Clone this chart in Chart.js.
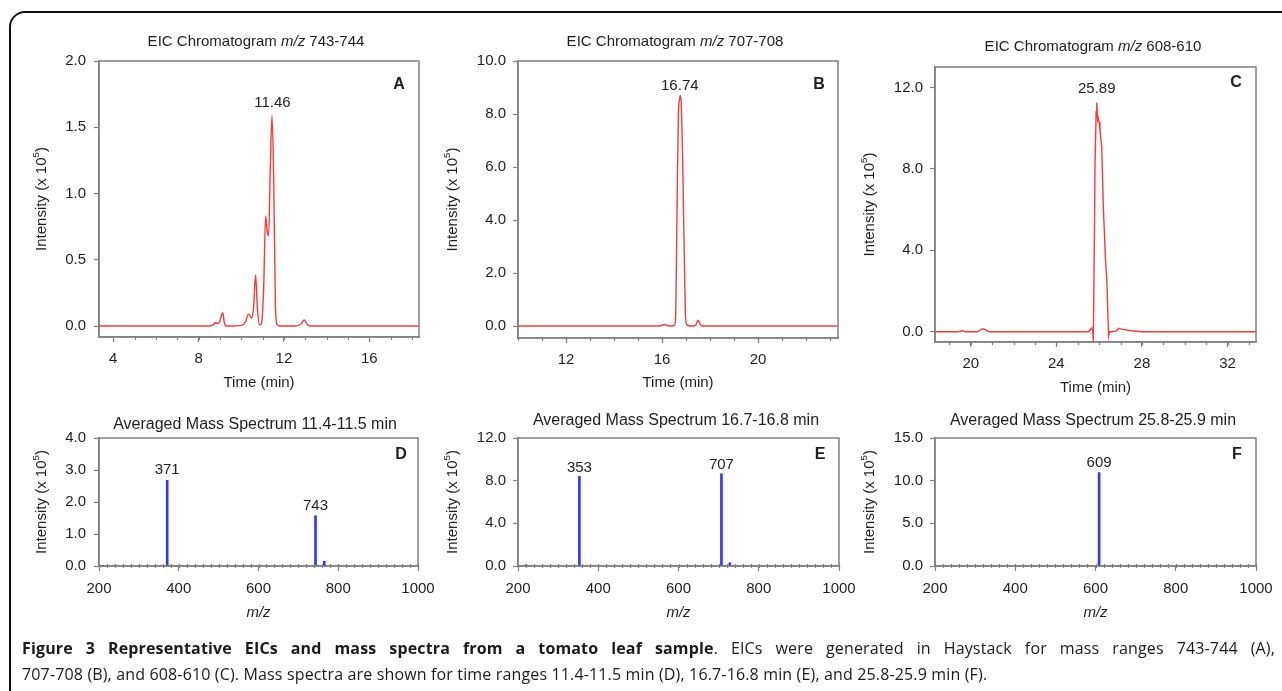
<!DOCTYPE html>
<html>
<head>
<meta charset="utf-8">
<script src="https://cdn.jsdelivr.net/npm/chart.js@4.4.1/dist/chart.umd.min.js"></script>
<style>
  html, body { margin: 0; padding: 0; background: #fff; }
  body { width: 1282px; height: 691px; position: relative; overflow: hidden; }
  .frame { position: absolute; left: 9px; top: 11px; width: 1320px; height: 720px;
           border: 2px solid #111; border-radius: 16px; box-sizing: border-box; }
  canvas.panel { position: absolute; left: 0; top: 0; }
  .cap { position: absolute; left: 22px; font-family: "Open Sans", "Noto Sans", sans-serif;
         font-size: 16px; color: #1a1a1a; line-height: 20px; letter-spacing: 0.15px; }
  #cap1 { top: 638px; width: 1253px; text-align: justify; text-align-last: justify; }
  #cap2 { top: 664px; white-space: nowrap; }
</style>
</head>
<body>
<div class="frame"></div>
<canvas id="cA" class="panel" width="1282" height="691"></canvas>
<canvas id="cB" class="panel" width="1282" height="691"></canvas>
<canvas id="cC" class="panel" width="1282" height="691"></canvas>
<canvas id="cD" class="panel" width="1282" height="691"></canvas>
<canvas id="cE" class="panel" width="1282" height="691"></canvas>
<canvas id="cF" class="panel" width="1282" height="691"></canvas>
<div id="cap1" class="cap"><b>Figure 3 Representative EICs and mass spectra from a tomato leaf sample</b>. EICs were generated in Haystack for mass ranges 743-744 (A),</div>
<div id="cap2" class="cap">707-708 (B), and 608-610 (C). Mass spectra are shown for time ranges 11.4-11.5 min (D), 16.7-16.8 min (E), and 25.8-25.9 min (F).</div>

<script>
// EIC traces (time in min, intensity x 10^5)
const timeA = [3.33, 6, 8.5, 8.7, 8.78, 8.9, 8.98, 9.05, 9.13, 9.2, 9.3, 9.5, 10.0, 10.2, 10.33, 10.4, 10.48, 10.58, 10.67, 10.76,
               10.85, 10.95, 11.05, 11.14, 11.21, 11.28, 11.36, 11.44, 11.52, 11.6, 11.68, 11.8, 12.5, 12.8, 12.95, 13.1, 13.3, 15, 18.33];
const intensityA = [0, 0, 0, 0.01, 0.025, 0.02, 0.03, 0.07, 0.1, 0.03, 0, 0, 0.005, 0.03, 0.09, 0.08, 0.06, 0.15, 0.385, 0.12,
                    0.01, 0.02, 0.3, 0.83, 0.72, 0.68, 1.2, 1.59, 1.1, 0.15, 0.01, 0, 0, 0.015, 0.045, 0.01, 0, 0, 0];

const timeB = [10, 12, 14, 15.9, 16.1, 16.2, 16.35, 16.5, 16.56, 16.62, 16.68, 16.72, 16.76, 16.8, 16.86, 16.92, 16.97, 17.02,
               17.2, 17.4, 17.5, 17.6, 17.75, 19, 21, 23.3];
const intensityB = [0, 0, 0, 0, 0.06, 0.03, 0, 0.02, 0.2, 4.0, 8.0, 8.5, 8.7, 8.4, 6.2, 3.0, 0.6, 0.05,
                    0, 0.03, 0.22, 0.05, 0, 0, 0, 0];

const timeC = [18.33, 19.4, 19.6, 19.75, 20.3, 20.55, 20.65, 20.85, 21.5, 24, 25.5, 25.65, 25.7, 25.73, 25.81, 25.86, 25.89,
               25.93, 25.96, 26.0, 26.04, 26.12, 26.2, 26.3, 26.36, 26.41, 26.44, 26.48, 26.6, 26.8, 26.9, 27.1, 27.5, 28, 33.33];
const intensityC = [0, 0, 0.06, 0, 0, 0.15, 0.12, 0, 0, 0, 0, 0.18, 0.05, -0.45, 8.3, 10.8, 11.25,
                    10.4, 10.5, 10.3, 9.9, 9.1, 6.0, 3.5, 2.5, 0.8, -0.2, 0, 0, 0.03, 0.17, 0.12, 0.05, 0, 0];

// averaged mass spectra (m/z, intensity x 10^5)
const mzD = [210, 240, 371, 395, 743, 765];
const abundD = [0.02, 0.03, 2.68, 0.02, 1.57, 0.15];
const mzE = [220, 353, 707, 728];
const abundE = [0.1, 8.4, 8.65, 0.3];
const mzF = [609];
const abundF = [10.95];

// labelled peaks
const peaksA = [[11.46, 1.59]];
const peaksB = [[16.74, 8.7]];
const peaksC = [[25.89, 11.25]];
const peaksD = [[371, 2.68], [743, 1.57]];
const peaksE = [[353, 8.4], [707, 8.65]];
const peaksF = [[609, 10.95]];

// ticks
const xTicksA = [4, 8, 12, 16];
const xTicksB = [12, 16, 20];
const xTicksC = [20, 24, 28, 32];
const mzTicks = [200, 400, 600, 800, 1000];
const yTicksA = [0, 0.5, 1.0, 1.5, 2.0];
const yTicksB = [0, 2, 4, 6, 8, 10];
const yTicksC = [0, 4, 8, 12];
const yTicksD = [0, 1, 2, 3, 4];
const yTicksE = [0, 4, 8, 12];
const yTicksF = [0, 5, 10, 15];

const FONT = '"Liberation Sans", Arial, sans-serif';
const GREY = '#808080';
const INK = '#1e1e1e';

function drawParts(ctx, parts, x, y, size, rotate) {
  ctx.save();
  ctx.translate(x, y);
  if (rotate) ctx.rotate(-Math.PI / 2);
  ctx.textBaseline = 'middle';
  ctx.textAlign = 'left';
  let w = 0;
  parts.forEach(p => {
    ctx.font = (p.it ? 'italic ' : '') + (p.b ? 'bold ' : '') + (p.sup ? size * 0.65 : size) + 'px ' + FONT;
    w += ctx.measureText(p.t).width;
  });
  let cx = -w / 2;
  parts.forEach(p => {
    ctx.font = (p.it ? 'italic ' : '') + (p.b ? 'bold ' : '') + (p.sup ? size * 0.65 : size) + 'px ' + FONT;
    ctx.fillStyle = INK;
    ctx.fillText(p.t, cx, p.sup ? -size * 0.35 : 0);
    cx += ctx.measureText(p.t).width;
  });
  ctx.restore();
}

const decor = {
  id: 'decor',
  afterDraw(chart) {
    const o = chart.config.options.decor;
    const { ctx, chartArea: a, scales: { x, y } } = chart;
    ctx.save();
    ctx.strokeStyle = GREY;
    ctx.lineWidth = 1.5;
    ctx.strokeRect(a.left, a.top, a.right - a.left, a.bottom - a.top);
    // minor ticks
    ctx.lineWidth = 1.2;
    ctx.beginPath();
    for (let v = Math.ceil(x.min / o.minor) * o.minor; v <= x.max + 1e-9; v += o.minor) {
      const px = Math.round(x.getPixelForValue(v)) + 0.5;
      ctx.moveTo(px, a.bottom - o.minorUp);
      ctx.lineTo(px, a.bottom + o.minorDown);
    }
    ctx.stroke();
    // titles
    drawParts(ctx, o.title, o.titleX, o.titleY, o.titleSize);
    drawParts(ctx, o.xTitle, (a.left + a.right) / 2, a.bottom + o.xTitleGap, 15);
    drawParts(ctx, [{ t: 'Intensity (x 10' }, { t: '5', sup: true }, { t: ')' }],
      a.left - o.yTitleGap, (a.top + a.bottom) / 2, 15, true);
    drawParts(ctx, [{ t: o.letter, b: true }], a.right - o.letterDx, a.top + o.letterDy, 16);
    // peak labels
    o.peaks.forEach(([px, py]) => {
      drawParts(ctx, [{ t: o.fmt(px) }], x.getPixelForValue(px), y.getPixelForValue(py) - o.labelGap, 15);
    });
    ctx.restore();
  }
};

function makeChart(id, p) {
  const isBar = p.type === 'bar';
  const data = p.xs.map((v, i) => ({ x: v, y: p.ys[i] }));
  const dataset = isBar
    ? { data, backgroundColor: '#3535ff', borderWidth: 0, barThickness: 2 }
    : { data, borderColor: '#ff3838', borderWidth: 1.4, pointRadius: 0, fill: false,
        cubicInterpolationMode: p.smooth ? 'monotone' : 'default', tension: 0 };
  return new Chart(document.getElementById(id), {
    type: isBar ? 'bar' : 'line',
    data: { datasets: [dataset] },
    plugins: [decor],
    options: {
      responsive: false,
      animation: false,
      events: [],
      layout: { padding: { left: p.box.l - 70, top: p.box.t, right: 1282 - p.box.r, bottom: 0 } },
      plugins: { legend: { display: false }, tooltip: { enabled: false }, title: { display: false } },
      scales: {
        x: {
          type: 'linear', min: p.xMin, max: p.xMax, offset: false,
          afterBuildTicks: s => { s.ticks = p.xTicks.map(v => ({ value: v })); },
          afterFit: s => { s.height = 691 - p.box.b; },
          ticks: { font: { family: FONT, size: 15 }, color: INK, padding: p.xPad, maxRotation: 0, autoSkip: false,
                   callback: v => String(v) },
          grid: { drawOnChartArea: false, offset: false, tickLength: 5, tickColor: GREY, tickWidth: 1.2 },
          border: { color: GREY, width: 1.5 }
        },
        y: {
          type: 'linear', min: p.yMin, max: p.yMax,
          afterBuildTicks: s => { s.ticks = p.yTicks.map(v => ({ value: v })); },
          afterFit: s => { s.width = 70; },
          ticks: { font: { family: FONT, size: 15 }, color: INK, padding: p.yPad, autoSkip: false,
                   callback: v => v.toFixed(1) },
          grid: { drawOnChartArea: false, tickLength: 5, tickColor: GREY, tickWidth: 1.2 },
          border: { color: GREY, width: 1.5 }
        }
      },
      decor: p.decor
    }
  });
}

const rtFmt = v => v.toFixed(2);
const mzFmt = v => String(v);
const timeTitle = [{ t: 'Time (min)' }];
const mzTitle = [{ t: 'm/z', it: true }];

makeChart('cA', {
  type: 'line', smooth: true, xs: timeA, ys: intensityA, box: { l: 99, t: 61, r: 419, b: 337 },
  xMin: 3.33, xMax: 18.33, yMin: -0.083, yMax: 2.0, xTicks: xTicksA, yTicks: yTicksA, xPad: 8, yPad: 8,
  decor: { minor: 1, minorUp: 0, minorDown: 3, titleX: 256, titleY: 42, titleSize: 15,
           title: [{ t: 'EIC Chromatogram ' }, { t: 'm/z', it: true }, { t: ' 743-744' }],
           xTitle: timeTitle, xTitleGap: 46, yTitleGap: 57, letter: 'A', letterDx: 20, letterDy: 24,
           peaks: peaksA, fmt: rtFmt, labelGap: 12 }
});
makeChart('cB', {
  type: 'line', smooth: true, xs: timeB, ys: intensityB, box: { l: 518, t: 61, r: 838, b: 338 },
  xMin: 10, xMax: 23.33, yMin: -0.45, yMax: 10.0, xTicks: xTicksB, yTicks: yTicksB, xPad: 8, yPad: 7,
  decor: { minor: 1, minorUp: 0, minorDown: 3, titleX: 675, titleY: 42, titleSize: 15,
           title: [{ t: 'EIC Chromatogram ' }, { t: 'm/z', it: true }, { t: ' 707-708' }],
           xTitle: timeTitle, xTitleGap: 45, yTitleGap: 65, letter: 'B', letterDx: 19, letterDy: 24,
           peaks: peaksB, fmt: rtFmt, labelGap: 10 }
});
makeChart('cC', {
  type: 'line', smooth: false, xs: timeC, ys: intensityC, box: { l: 935, t: 67, r: 1256, b: 342 },
  xMin: 18.33, xMax: 33.33, yMin: -0.5, yMax: 13.0, xTicks: xTicksC, yTicks: yTicksC, xPad: 8, yPad: 7,
  decor: { minor: 1, minorUp: 0, minorDown: 3, titleX: 1093, titleY: 47, titleSize: 15,
           title: [{ t: 'EIC Chromatogram ' }, { t: 'm/z', it: true }, { t: ' 608-610' }],
           xTitle: timeTitle, xTitleGap: 46, yTitleGap: 65, letter: 'C', letterDx: 20, letterDy: 16,
           peaks: peaksC, fmt: rtFmt, labelGap: 14 }
});
makeChart('cD', {
  type: 'bar', xs: mzD, ys: abundD, box: { l: 99, t: 438, r: 418, b: 566 },
  xMin: 200, xMax: 1000, yMin: 0, yMax: 4.0, xTicks: mzTicks, yTicks: yTicksD, xPad: 9, yPad: 8,
  decor: { minor: 20, minorUp: 2, minorDown: 2, titleX: 255, titleY: 425, titleSize: 16,
           title: [{ t: 'Averaged Mass Spectrum 11.4-11.5 min' }],
           xTitle: mzTitle, xTitleGap: 47, yTitleGap: 57, letter: 'D', letterDx: 17, letterDy: 17,
           peaks: peaksD, fmt: mzFmt, labelGap: 10 }
});
makeChart('cE', {
  type: 'bar', xs: mzE, ys: abundE, box: { l: 518, t: 438, r: 839, b: 566 },
  xMin: 200, xMax: 1000, yMin: 0, yMax: 12.0, xTicks: mzTicks, yTicks: yTicksE, xPad: 9, yPad: 7,
  decor: { minor: 20, minorUp: 2, minorDown: 2, titleX: 676, titleY: 421, titleSize: 16,
           title: [{ t: 'Averaged Mass Spectrum 16.7-16.8 min' }],
           xTitle: mzTitle, xTitleGap: 47, yTitleGap: 65, letter: 'E', letterDx: 19, letterDy: 17,
           peaks: peaksE, fmt: mzFmt, labelGap: 9 }
});
makeChart('cF', {
  type: 'bar', xs: mzF, ys: abundF, box: { l: 935, t: 438, r: 1256, b: 566 },
  xMin: 200, xMax: 1000, yMin: 0, yMax: 15.0, xTicks: mzTicks, yTicks: yTicksF, xPad: 9, yPad: 7,
  decor: { minor: 20, minorUp: 2, minorDown: 2, titleX: 1093, titleY: 421, titleSize: 16,
           title: [{ t: 'Averaged Mass Spectrum 25.8-25.9 min' }],
           xTitle: mzTitle, xTitleGap: 47, yTitleGap: 65, letter: 'F', letterDx: 19, letterDy: 17,
           peaks: peaksF, fmt: mzFmt, labelGap: 10 }
});
</script>
</body>
</html>
